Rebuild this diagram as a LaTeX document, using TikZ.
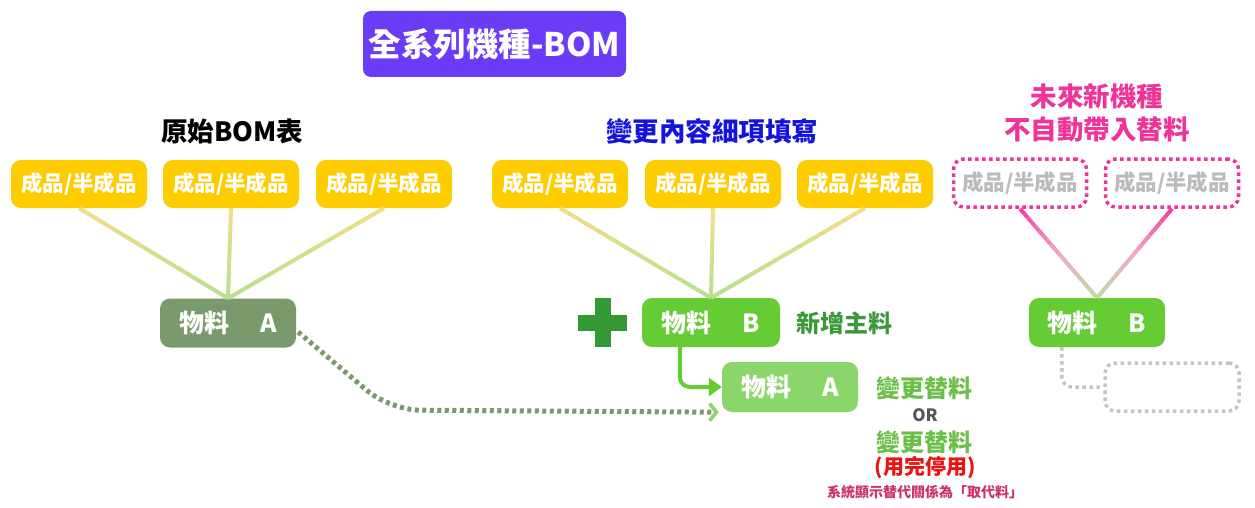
\documentclass[tikz,border=0pt]{standalone}
\usepackage{fontspec}
\setmainfont{Noto Sans CJK TC}
\usetikzlibrary{arrows.meta,calc}
\definecolor{cpurple}{HTML}{6B3CF5}
\definecolor{cyellow}{HTML}{FFCC00}
\definecolor{cmatA}{HTML}{7A9A6E}
\definecolor{cmatB}{HTML}{66CC33}
\definecolor{cmatAA}{HTML}{8BD66A}
\definecolor{cplus}{HTML}{339933}
\definecolor{cblue}{HTML}{1414DC}
\definecolor{cpink}{HTML}{EE3399}
\definecolor{cred}{HTML}{EE1111}
\definecolor{csmall}{HTML}{CC3366}
\definecolor{cdkgreen}{HTML}{3A9A3A}
\definecolor{cltgreen}{HTML}{6CC04A}
\definecolor{cgray}{HTML}{C4C4C4}
\definecolor{ctxtgray}{HTML}{BBBBBB}
\definecolor{cor}{HTML}{555555}
\definecolor{lyel}{HTML}{F3DD85}
\definecolor{lgrn}{HTML}{B5E08E}
\definecolor{lpink}{HTML}{F03C96}
\definecolor{lpinkmid}{HTML}{F2A6C6}
\definecolor{lpgrn}{HTML}{BEDDA0}
% two-colour gradient line
\newcommand\gline[4]{%
  \foreach \i in {1,...,20}{%
    \pgfmathsetmacro\sa{(\i-1)/20}%
    \pgfmathsetmacro\sb{\i/20}%
    \pgfmathtruncatemacro\p{(\i-0.5)*5}%
    \draw[line width=4pt, color=#4!\p!#3] ($(#1)!\sa!(#2)$) -- ($(#1)!\sb!(#2)$);
  }}
% three-colour gradient line
\newcommand\glinethree[5]{%
  \foreach \i in {1,...,20}{%
    \pgfmathsetmacro\sa{(\i-1)/20}%
    \pgfmathsetmacro\sb{\i/20}%
    \pgfmathtruncatemacro\p{(\i-0.5)*10}%
    \pgfmathtruncatemacro\q{(\i-10.5)*10}%
    \ifnum\i<11
      \draw[line width=4pt, color=#4!\p!#3] ($(#1)!\sa!(#2)$) -- ($(#1)!\sb!(#2)$);
    \else
      \draw[line width=4pt, color=#5!\q!#4] ($(#1)!\sa!(#2)$) -- ($(#1)!\sb!(#2)$);
    \fi
  }}
\begin{document}
\begin{tikzpicture}[x=1pt,y=-1pt,
  ybox/.style={fill=cyellow, rounded corners=10pt, minimum width=136pt, minimum height=48pt,
    text=white, font=\bfseries\fontsize{21.5}{21.5}\selectfont, inner sep=0pt},
  pbox/.style={draw=cpink, line width=3.5pt, dash pattern=on 3.5pt off 3.5pt, rounded corners=10pt,
    minimum width=133pt, minimum height=48pt, text=ctxtgray, font=\bfseries\fontsize{21.5}{21.5}\selectfont, inner sep=0pt},
  mbox/.style={rounded corners=10pt, minimum width=136pt, minimum height=49pt,
    text=white, font=\bfseries\fontsize{25}{25}\selectfont, inner sep=0pt},
  head/.style={font=\bfseries\fontsize{26.5}{33}\selectfont, align=center, inner sep=0pt},
  lbl/.style={font=\bfseries\fontsize{24}{24}\selectfont, inner sep=0pt}
]
\useasboundingbox (0,0) rectangle (1255,508);

% title
\node[fill=cpurple, rounded corners=8pt, minimum width=263pt, minimum height=66pt, text=white,
  font=\bfseries\fontsize{32.5}{32.5}\selectfont, inner sep=0pt] (title) at (494.5,44) {全系列機種-BOM};

% headings
\node[head, text=black] (h1) at (232,131) {原始BOM表};
\node[head, text=cblue] (h2) at (712,131) {變更內容細項填寫};
\node[head, text=cpink] (h3) at (1097,113) {未來新機種\\不自動帶入替料};

% yellow boxes
\node[ybox] (l1) at (79,184) {成品/半成品};
\node[ybox] (l2) at (231,184) {成品/半成品};
\node[ybox] (l3) at (384,184) {成品/半成品};
\node[ybox] (m1) at (560,184) {成品/半成品};
\node[ybox] (m2) at (713,184) {成品/半成品};
\node[ybox] (m3) at (865,184) {成品/半成品};
\node[pbox] (r1) at (1020,183) {成品/半成品};
\node[pbox] (r2) at (1172,183) {成品/半成品};

% materials
\node[mbox, fill=cmatA] (matA) at (228,323) {物料\hspace{1.25em}A};
\node[mbox, fill=cmatB, minimum width=138pt] (matB) at (711,322.5) {物料\hspace{1.25em}B};
\node[mbox, fill=cmatAA, minimum height=50pt] (matAA) at (790,387) {物料\hspace{1.25em}A};
\node[mbox, fill=cmatB] (matB2) at (1097,322.5) {物料\hspace{1.25em}B};
\node[draw=cgray, line width=3.5pt, dash pattern=on 3.5pt off 3.5pt, rounded corners=10pt,
  minimum width=134pt, minimum height=48pt, inner sep=0pt] (gbox) at (1172,387) {};

% connector lines
\gline{l1.south}{matA.north}{lyel}{lgrn}
\gline{l2.south}{matA.north}{lyel}{lgrn}
\gline{l3.south}{matA.north}{lyel}{lgrn}
\gline{m1.south}{matB.north}{lyel}{lgrn}
\gline{m2.south}{matB.north}{lyel}{lgrn}
\gline{m3.south}{matB.north}{lyel}{lgrn}
\glinethree{r1.south}{matB2.north}{lpink}{lpinkmid}{lpgrn}
\glinethree{r2.south}{matB2.north}{lpink}{lpinkmid}{lpgrn}

% plus sign
\fill[cplus] (578,315) rectangle (627,331);
\fill[cplus] (594.5,298) rectangle (610.5,347);

% labels
\node[lbl, text=cdkgreen] (new) at (844,323) {新增主料};
\node[lbl, text=cltgreen] (t1) at (924,388) {變更替料};
\node[font=\bfseries\fontsize{17}{17}\selectfont, text=cor, inner sep=0pt] (t2) at (925,415) {OR};
\node[lbl, text=cltgreen] (t3) at (924,442) {變更替料};
\node[font=\bfseries\fontsize{21}{21}\selectfont, text=cred, inner sep=0pt] (t4) at (925,468) {(用完停用)};
\node[font=\bfseries\fontsize{14}{14}\selectfont, text=csmall, inner sep=0pt] (t5) at (925,492) {系統顯示替代關係為「取代料」};

% arrows
\coordinate (dA) at ($(matA.east)+(2,9)$);
\coordinate (dB) at (390,410);
\coordinate (dC) at ($(matAA.south west)+(-3,0)$);
\draw[cmatA, line width=5pt, dash pattern=on 4pt off 3.5pt, rounded corners=30pt,
  -{Straight Barb[length=7pt,width=17pt,line width=3.5pt,color=cmatAA]}]
  (dA) -- (dB) -- (dC);

\draw[cmatB, line width=4pt, rounded corners=10pt, -{Triangle[length=13pt,width=18pt]}]
  ($(matB.south west)+(38,0)$) |- (matAA.west);

\draw[cgray, line width=3.5pt, dash pattern=on 3.5pt off 3.5pt, rounded corners=10pt]
  ($(matB2.south west)+(33,0)$) |- (gbox.west);
\end{tikzpicture}
\end{document}
